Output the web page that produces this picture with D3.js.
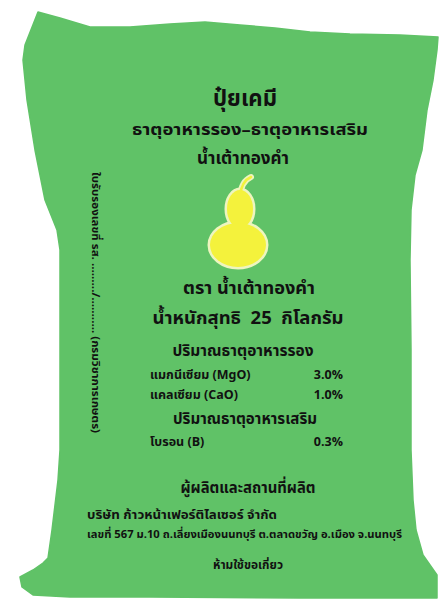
<!DOCTYPE html>
<html><head><meta charset="utf-8">
<script src="https://cdn.jsdelivr.net/npm/d3@7"></script>
<style>html,body{margin:0;padding:0;background:#fff;}svg{display:block;}</style>
</head><body>
<script>
// ---- content data ----
const titleLines = ["ปุ๋ยเคมี", "ธาตุอาหารรอง–ธาตุอาหารเสริม", "น้ำเต้าทองคำ"];
const brand = "ตรา น้ำเต้าทองคำ";
const netWeightKg = 25;
const secondaryHeading = "ปริมาณธาตุอาหารรอง";
const secondaryNames = ["แมกนีเซียม (MgO)", "แคลเซียม (CaO)"];
const secondaryValues = [3.0, 1.0];
const microHeading = "ปริมาณธาตุอาหารเสริม";
const microNames = ["โบรอน (B)"];
const microValues = [0.3];
const makerHeading = "ผู้ผลิตและสถานที่ผลิต";
const makerLines = ["บริษัท ก้าวหน้าเฟอร์ติไลเซอร์ จำกัด", "เลขที่ 567 ม.10 ถ.เลี่ยงเมืองนนทบุรี ต.ตลาดขวัญ อ.เมือง จ.นนทบุรี"];
const warning = "ห้ามใช้ขอเกี่ยว";
const certText = "ใบรับรองเลขที่ รส. ........./........... (กรมวิชาการเกษตร)";

// ---- layout ----
const W = 442, H = 606;
const FONT = "'Noto Sans Thai','Noto Sans','DejaVu Sans',sans-serif";
const GREEN = "#60c267", INK = "#111";
const svg = d3.select("body").append("svg").attr("width", W).attr("height", H);

// bag outline (silhouette of the sack)
const outline = [[38,12],[60,18],[90,27],[130,27],[170,24],[205,22],[240,25],[275,28],[310,32],[350,34],[400,35],[438,37],
  [437,50],[433,80],[427,110],[422,150],[415,175],[411,210],[410,260],[411,350],[411,450],[413,500],[416,530],[423,555],[437,575],[437,598],
  [300,598],[150,597],[70,597],[33,595],[22,587],[20,577],[33,570],[43,563],[48,558],[52,530],[58,480],[60,450],[60,300],[60,250],[57,230],[45,200],[35,150],[27,100],[23,60],[25,45]];
svg.append("path").attr("d", d3.line().curve(d3.curveLinearClosed)(outline)).attr("fill", GREEN)
  .attr("stroke", GREEN).attr("stroke-width", 1.5).attr("stroke-linejoin", "round");

function txt(s, x, y, size, anchor = "middle", len = null) {
  const t = svg.append("text").attr("x", x).attr("y", y).attr("font-family", FONT).attr("font-weight", "bold")
    .attr("font-size", size).attr("fill", INK).attr("text-anchor", anchor).style("white-space", "pre").text(s);
  if (len) t.attr("textLength", len).attr("lengthAdjust", "spacingAndGlyphs");
  return t;
}
txt(titleLines[0], 245, 106, 23, "middle", 64);
txt(titleLines[1], 250, 135, 16, "middle", 236);
txt(titleLines[2], 243, 164, 17, "middle", 92);

// gourd
const g = svg.append("g");
const PALE = "#eef5bf", YEL = "#f4f23c";
const stem = d3.path(); stem.moveTo(240, 196); stem.bezierCurveTo(241, 186, 244, 180, 251, 177);
const shapes = [{cx: 240, cy: 209, rx: 13, ry: 19}, {cx: 238, cy: 245, rx: 28, ry: 22}];
g.append("path").attr("d", stem.toString()).attr("stroke", PALE).attr("stroke-width", 6).attr("fill", "none").attr("stroke-linecap", "round");
g.selectAll("ellipse.o").data(shapes).join("ellipse").attr("cx", d => d.cx).attr("cy", d => d.cy).attr("rx", d => d.rx).attr("ry", d => d.ry)
  .attr("fill", PALE).attr("stroke", PALE).attr("stroke-width", 5);
g.append("path").attr("d", stem.toString()).attr("stroke", YEL).attr("stroke-width", 2.5).attr("fill", "none").attr("stroke-linecap", "round");
g.selectAll("ellipse.i").data(shapes).join("ellipse").attr("cx", d => d.cx).attr("cy", d => d.cy).attr("rx", d => d.rx).attr("ry", d => d.ry)
  .attr("fill", YEL);

txt(brand, 249, 294, 17.5, "middle", 132);
txt(`น้ำหนักสุทธิ  ${netWeightKg}  กิโลกรัม`, 248, 324, 18, "middle", 191);

txt(secondaryHeading, 243, 356, 15, "middle", 141);
const nameX = 150, valX = 343;
secondaryNames.forEach((n, i) => {
  txt(n, nameX, 379 + i * 20, 12.5, "start");
  txt(secondaryValues[i].toFixed(1) + "%", valX, 379 + i * 20, 12.5, "end");
});
txt(microHeading, 245, 424, 15, "middle", 144);
microNames.forEach((n, i) => {
  txt(n, nameX, 446 + i * 20, 12.5, "start");
  txt(microValues[i].toFixed(1) + "%", valX, 446 + i * 20, 12.5, "end");
});

txt(makerHeading, 248, 493, 16, "middle", 135);
txt(makerLines[0], 87, 519, 13, "start", 190);
txt(makerLines[1], 87, 538, 11, "start", 315);
txt(warning, 248, 569, 11.5, "middle", 70);

// vertical certification line
svg.append("text").attr("transform", "translate(92,172) rotate(90)").attr("font-family", FONT).attr("font-weight", "bold")
  .attr("font-size", 11).attr("fill", INK).attr("text-anchor", "start")
  .attr("textLength", 261).attr("lengthAdjust", "spacingAndGlyphs").text(certText);
</script>
</body></html>
